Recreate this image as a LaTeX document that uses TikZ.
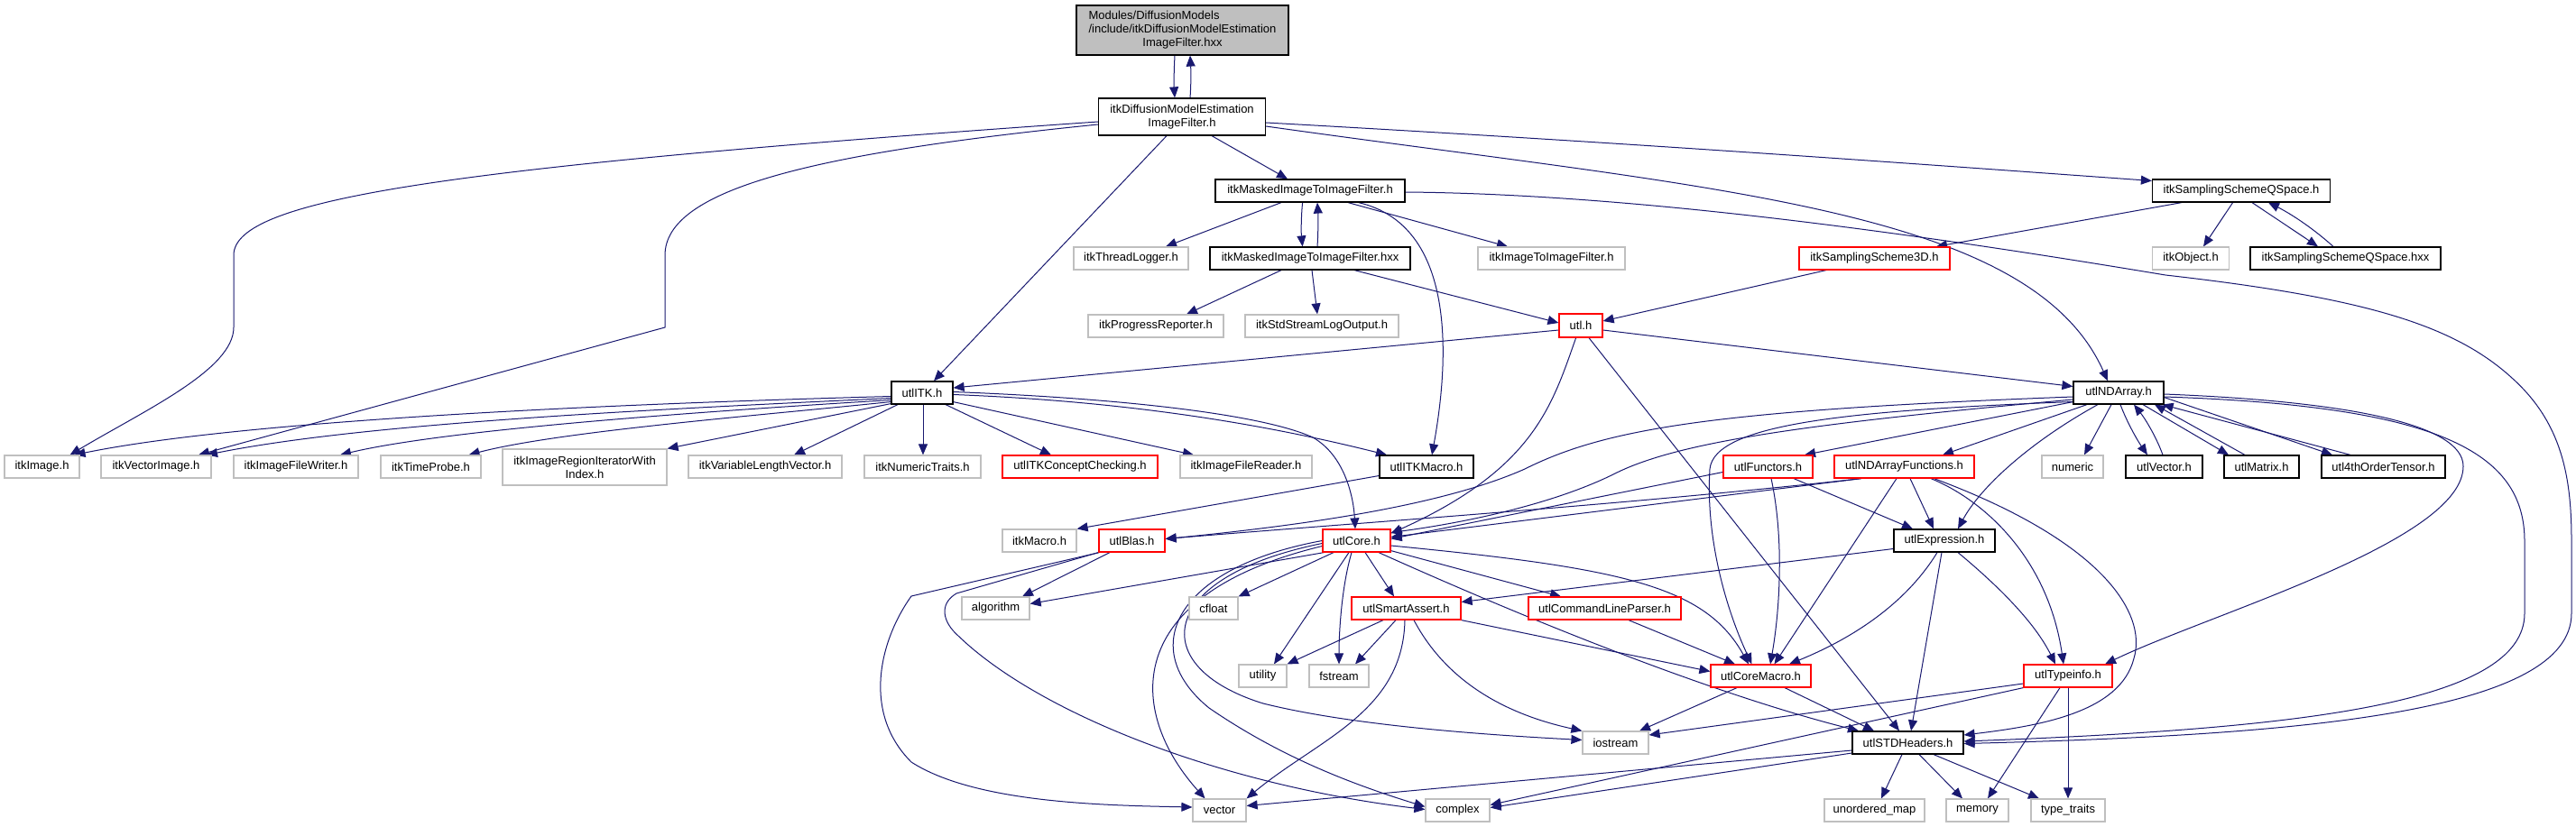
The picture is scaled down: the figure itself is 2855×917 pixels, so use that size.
\documentclass[tikz,border=0pt]{standalone}
\usepackage{fontspec}
\setmainfont{Liberation Sans}
\usetikzlibrary{arrows.meta}
\definecolor{navy}{HTML}{191970}
\definecolor{grayb}{HTML}{BFBFBF}
\definecolor{redb}{HTML}{FF0000}
\pgfdeclarelayer{bg}\pgfdeclarelayer{edges}\pgfsetlayers{bg,edges,main}
\begin{document}
\begin{tikzpicture}[x=1pt,y=-1pt,
  box/.style={rectangle, draw, fill=white, line width=1.2pt, inner sep=0pt, minimum height=25pt, align=center, font=\fontsize{13pt}{15pt}\selectfont},
  bbox/.style={box, draw=black},
  gbox/.style={box, draw=grayb},
  rbox/.style={box, draw=redb},
  dep/.style={draw=navy, line width=1pt, -{Triangle[length=12pt,width=10pt]}}]
\useasboundingbox (0,0) rectangle (2855,917);
\begin{pgfonlayer}{bg}
\fill[white] (0,0) rectangle (2855,917);
\end{pgfonlayer}
% nodes
\node[bbox, fill=grayb, minimum width=235pt, minimum height=55pt] (top) at (1310.5,33.5) {\begin{tabular}{@{}l@{}}Modules/DiffusionModels\\/include/itkDiffusionModelEstimation\\\multicolumn{1}{@{}c@{}}{ImageFilter.hxx}\end{tabular}};
\node[bbox, minimum width=185pt, minimum height=41pt] (dmeif) at (1310,129.5) {itkDiffusionModelEstimation\\ImageFilter.h};
\node[bbox, minimum width=210pt] (maskh) at (1452,211.5) {itkMaskedImageToImageFilter.h};
\node[gbox, minimum width=127pt] (thread) at (1253.5,286.5) {itkThreadLogger.h};
\node[bbox, minimum width=222pt] (maskhxx) at (1452,286.5) {itkMaskedImageToImageFilter.hxx};
\node[gbox, minimum width=150pt] (progress) at (1281,361.5) {itkProgressReporter.h};
\node[gbox, minimum width=170pt] (stdstream) at (1465,361.5) {itkStdStreamLogOutput.h};
\node[bbox, minimum width=68pt] (utlitk) at (1022,435.5) {utlITK.h};
\node[gbox, minimum width=163pt] (imgtoimg) at (1719.5,286.5) {itkImageToImageFilter.h};
\node[rbox, minimum width=167pt] (ss3d) at (2077.5,286.5) {itkSamplingScheme3D.h};
\node[rbox, minimum width=48pt, minimum height=26pt] (utl) at (1752,361) {utl.h};
\node[bbox, minimum width=197pt] (ssq) at (2484,211.5) {itkSamplingSchemeQSpace.h};
\node[gbox, minimum width=85pt] (itkobj) at (2428,286.5) {itkObject.h};
\node[bbox, minimum width=211pt] (ssqhxx) at (2599.5,286.5) {itkSamplingSchemeQSpace.hxx};
\node[bbox, minimum width=100pt] (ndarray) at (2348,435.5) {utlNDArray.h};
% row 517.5
\node[gbox, minimum width=83pt] (itkimage) at (46.5,517.5) {itkImage.h};
\node[gbox, minimum width=122pt] (vecimg) at (173,517.5) {itkVectorImage.h};
\node[gbox, minimum width=138pt] (writer) at (328,517.5) {itkImageFileWriter.h};
\node[gbox, minimum width=111pt] (timeprobe) at (477.5,517.5) {itkTimeProbe.h};
\node[gbox, minimum width=182pt, minimum height=40pt] (regioniter) at (648,518) {itkImageRegionIteratorWith\\Index.h};
\node[gbox, minimum width=170pt] (varlen) at (848,517.5) {itkVariableLengthVector.h};
\node[gbox, minimum width=129pt] (numtraits) at (1022.5,517.5) {itkNumericTraits.h};
\node[rbox, minimum width=172pt] (concept) at (1197,517.5) {utlITKConceptChecking.h};
\node[gbox, minimum width=146pt] (reader) at (1381,517.5) {itkImageFileReader.h};
\node[bbox, minimum width=104pt] (itkmacroutl) at (1581,517.5) {utlITKMacro.h};
\node[rbox, minimum width=99pt] (functors) at (1959.5,517.5) {utlFunctors.h};
\node[rbox, minimum width=155pt] (ndfunc) at (2110.5,517.5) {utlNDArrayFunctions.h};
\node[gbox, minimum width=68pt] (numeric) at (2297,517.5) {numeric};
\node[bbox, minimum width=85pt] (utlvec) at (2398.5,517.5) {utlVector.h};
\node[bbox, minimum width=83pt] (matrix) at (2506.5,517.5) {utlMatrix.h};
\node[bbox, minimum width=137pt] (tensor) at (2641.5,517.5) {utl4thOrderTensor.h};
% row 599.5
\node[gbox, minimum width=82pt] (itkmacro) at (1152,599.5) {itkMacro.h};
\node[rbox, minimum width=73pt] (blas) at (1254.5,599.5) {utlBlas.h};
\node[rbox, minimum width=75pt] (core) at (1503.5,599.5) {utlCore.h};
\node[bbox, minimum width=112pt] (expr) at (2155,599.5) {utlExpression.h};
% row 674.5
\node[gbox, minimum width=75pt] (algorithm) at (1103.5,674.5) {algorithm};
\node[gbox, minimum width=54pt] (cfloat) at (1345,674.5) {cfloat};
\node[rbox, minimum width=121pt] (smart) at (1558.5,674.5) {utlSmartAssert.h};
\node[rbox, minimum width=169pt] (cmdline) at (1778.5,674.5) {utlCommandLineParser.h};
% row 749.5
\node[gbox, minimum width=53pt] (utility) at (1399.5,749.5) {utility};
\node[gbox, minimum width=66pt] (fstream) at (1484,749.5) {fstream};
\node[rbox, minimum width=111pt] (coremacro) at (1951.5,749.5) {utlCoreMacro.h};
\node[rbox, minimum width=98pt] (typeinfo) at (2292,749.5) {utlTypeinfo.h};
% row 823.5
\node[gbox, minimum width=73pt] (iostream) at (1790.5,823.5) {iostream};
\node[bbox, minimum width=123pt] (stdh) at (2114.5,823.5) {utlSTDHeaders.h};
% row 898.5
\node[gbox, minimum width=59pt] (vector) at (1351.5,898.5) {vector};
\node[gbox, minimum width=71pt] (complex) at (1615.5,898.5) {complex};
\node[gbox, minimum width=111pt] (umap) at (2077.5,898.5) {unordered\_map};
\node[gbox, minimum width=69pt] (memory) at (2191.5,898.5) {memory};
\node[gbox, minimum width=82pt] (typetraits) at (2292,898.5) {type\_traits};

\begin{pgfonlayer}{edges}
% top part
\draw[dep] ([xshift=-8.5pt]top.south) .. controls (1301,80) and (1301,95) .. ([xshift=-8pt]dmeif.north);
\draw[dep] ([xshift=9pt]dmeif.north) .. controls (1320,95) and (1320,80) .. ([xshift=8.5pt]top.south);
\draw[dep] ([yshift=-5.5pt]dmeif.west) .. controls (500,185) and (259,220) .. (259,283) -- (259,363) .. controls (259,410) and (160,455) .. ([xshift=31pt]itkimage.north);
\draw[dep] ([yshift=-8.5pt]dmeif.west) .. controls (900,170) and (737,210) .. (737,283) -- (737,363) -- ([xshift=47pt]vecimg.north);
\draw[dep] ([xshift=-17pt]dmeif.south) -- ([xshift=13pt]utlitk.north);
\draw[dep] ([xshift=33pt]dmeif.south) -- ([xshift=-25pt]maskh.north);
\draw[dep] ([yshift=-6.5pt]dmeif.east) .. controls (1800,158) and (2100,180) .. ([yshift=11pt]ssq.west);
\draw[dep] ([yshift=-10.5pt]dmeif.east) .. controls (1900,210) and (2250,230) .. ([xshift=-12pt]ndarray.north);
% masked filter
\draw[dep] ([xshift=-32pt]maskh.south) -- ([xshift=38.5pt]thread.north);
\draw[dep] ([xshift=-8.4pt]maskh.south) .. controls (1442,240) and (1442,258) .. ([xshift=-8.4pt]maskhxx.north);
\draw[dep] ([xshift=8pt]maskhxx.north) .. controls (1461,258) and (1461,240) .. ([xshift=8pt]maskh.south);
\draw[dep] ([xshift=42pt]maskh.south) -- ([xshift=-48.5pt]imgtoimg.north);
\draw[dep] ([xshift=53.6pt]maskh.south) .. controls (1615,250) and (1606,400) .. ([xshift=6pt]itkmacroutl.north);
\draw[dep] ([yshift=-1.5pt]maskh.east) .. controls (1800,215) and (2100,255) .. (2400,305) .. controls (2620,330) and (2720,360) .. (2785,420) .. controls (2840,470) and (2850,530) .. (2850,600) -- (2850,680) .. controls (2850,790) and (2550,815) .. ([yshift=-1pt]stdh.east);
\draw[dep] ([xshift=-32pt]maskhxx.south) -- ([xshift=34pt]progress.north);
\draw[dep] ([xshift=2pt]maskhxx.south) -- ([xshift=-5pt]stdstream.north);
\draw[dep] ([xshift=49pt]maskhxx.south) -- ([yshift=3pt]utl.west);
% sampling schemes
\draw[dep] ([xshift=-53.5pt]ss3d.south) -- ([yshift=5pt]utl.east);
\draw[dep] ([xshift=-66pt]ssq.south) -- ([xshift=68.5pt]ss3d.north);
\draw[dep] ([xshift=-9.4pt]ssq.south) -- ([xshift=14pt]itkobj.north);
\draw[dep] ([xshift=12pt]ssq.south) -- ([xshift=-30.5pt]ssqhxx.north);
\draw[dep] ([xshift=-13.5pt]ssqhxx.north) .. controls (2560,250) and (2535,235) .. ([xshift=30pt]ssq.south);
% utl.h
\draw[dep] ([yshift=-5pt]utl.west) -- ([yshift=5.5pt]utlitk.east);
\draw[dep] ([yshift=-5pt]utl.east) -- ([yshift=7pt]ndarray.west);
\draw[dep] ([xshift=-5.4pt]utl.south) .. controls (1720,450) and (1700,520) .. ([yshift=8pt]core.east);
\draw[dep] ([xshift=9pt]utl.south) -- ([xshift=-9.5pt]stdh.north);
% utlNDArray.h
\draw[dep] ([yshift=-4.5pt]ndarray.west) .. controls (1900,455) and (1780,475) .. (1690,520) .. controls (1600,560) and (1450,582) .. ([yshift=2pt]blas.east);
\draw[dep] ([yshift=-7.5pt]ndarray.west) .. controls (2000,470) and (1860,490) .. (1790,525) .. controls (1720,560) and (1620,580) .. ([yshift=9pt]core.east);
\draw[dep] ([yshift=-10pt]ndarray.west) .. controls (2050,455) and (1900,470) .. (1895,520) .. controls (1890,600) and (1915,680) .. ([xshift=-10pt]coremacro.north);
\draw[dep] ([yshift=3pt]ndarray.south west) -- ([xshift=40.5pt]functors.north);
\draw[dep] ([xshift=-35pt]ndarray.south) -- ([xshift=42.5pt]ndfunc.north);
\draw[dep] ([xshift=-23pt]ndarray.south) .. controls (2250,490) and (2195,540) .. ([xshift=15pt]expr.north);
\draw[dep] ([xshift=-8pt]ndarray.south) -- ([xshift=13pt]numeric.north);
\draw[dep] ([xshift=2pt]ndarray.south) .. controls (2358,470) and (2370,490) .. ([xshift=-18.5pt]utlvec.north);
\draw[dep] ([xshift=-1.5pt]utlvec.north) .. controls (2390,485) and (2378,465) .. ([xshift=17pt]ndarray.south);
\draw[dep] ([xshift=27pt]ndarray.south) -- ([xshift=-36.5pt]matrix.north);
\draw[dep] ([xshift=-18.5pt]matrix.north) -- ([xshift=40pt]ndarray.south);
\draw[dep] ([yshift=8pt]ndarray.south east) -- ([xshift=-56.5pt]tensor.north);
\draw[dep] ([xshift=-36.5pt]tensor.north) -- ([xshift=-2pt]ndarray.south east);
\draw[dep] ([yshift=-1.5pt]ndarray.east) .. controls (2600,445) and (2730,470) .. (2730,517) .. controls (2730,600) and (2450,680) .. ([xshift=41pt]typeinfo.north);
\draw[dep] ([yshift=-4.5pt]ndarray.east) .. controls (2700,450) and (2798,500) .. (2798,600) -- (2798,680) .. controls (2798,780) and (2550,808) .. ([yshift=1.5pt]stdh.east);
% utlNDArrayFunctions.h
\draw[dep] ([xshift=6.5pt]ndfunc.south) -- ([xshift=-12pt]expr.north);
\draw[dep] ([xshift=-8.5pt]ndfunc.south) -- ([xshift=15pt]coremacro.north);
\draw[dep] ([xshift=29.5pt]ndfunc.south) .. controls (2200,555) and (2270,620) .. ([xshift=-5pt]typeinfo.north);
\draw[dep] ([xshift=33pt]ndfunc.south) .. controls (2330,600) and (2380,680) .. (2365,730) .. controls (2350,790) and (2260,805) .. ([yshift=8.5pt]stdh.east);
\draw[dep] ([xshift=-47.5pt]ndfunc.south) -- ([yshift=4pt]core.east);
\draw[dep] ([xshift=-47.5pt]ndfunc.south) .. controls (1800,560) and (1500,580) .. ([yshift=2pt]blas.east);
% utlFunctors.h
\draw[dep] ([yshift=-6pt]functors.west) -- ([yshift=2pt]core.east);
\draw[dep] ([xshift=28.5pt]functors.south) -- ([xshift=-35pt]expr.north);
\draw[dep] ([xshift=3.5pt]functors.south) .. controls (1978,600) and (1972,680) .. ([xshift=10.5pt]coremacro.north);
% utlExpression.h
\draw[dep] ([xshift=-3pt]expr.south) -- ([xshift=3.5pt]stdh.north);
\draw[dep] ([xshift=-8pt]expr.south) .. controls (2115,665) and (2060,705) .. ([xshift=31.5pt]coremacro.north);
\draw[dep] ([xshift=15pt]expr.south) .. controls (2215,650) and (2255,690) .. ([xshift=-14pt]typeinfo.north);
\draw[dep] ([yshift=-9pt]expr.west) -- ([yshift=7pt]smart.east);
% utlCore.h
\draw[dep] ([xshift=2pt]core.south west) -- ([yshift=5pt]algorithm.east);
\draw[dep] ([xshift=-25.5pt]core.south) -- (cfloat.north east);
\draw[dep] ([xshift=-8.5pt]core.south) -- ([xshift=12.5pt]utility.north);
\draw[dep] ([xshift=-5.5pt]core.south) .. controls (1487,650) and (1484,700) .. (fstream.north);
\draw[dep] ([xshift=9.5pt]core.south) -- ([xshift=-13.5pt]smart.north);
\draw[dep] ([yshift=2pt]core.south east) -- ([xshift=-48.5pt]cmdline.north);
\draw[dep] ([yshift=-5.5pt]core.east) .. controls (1800,630) and (1890,650) .. ([xshift=-13.5pt]coremacro.north);
\draw[dep] ([xshift=24.5pt]core.south) .. controls (1700,690) and (1900,770) .. ([xshift=-54.5pt]stdh.north);
\draw[dep] ([yshift=-6pt]core.west) .. controls (1240,660) and (1250,790) .. ([xshift=-16pt]vector.north);
\draw[dep] ([yshift=-3pt]core.west) .. controls (1280,640) and (1270,740) .. (1400,780) .. controls (1500,805) and (1650,815) .. ([yshift=3pt]iostream.west);
\draw[dep] (core.west) .. controls (1300,630) and (1260,720) .. (1340,785) .. controls (1420,840) and (1500,870) .. ([yshift=4pt]complex.west);
% utlBlas.h
\draw[dep] ([xshift=-24.5pt]blas.south) -- ([xshift=29.5pt]algorithm.north);
\draw[dep] ([xshift=1pt]blas.south west) -- (1010,661) .. controls (975,710) and (955,790) .. (1010,845) .. controls (1080,890) and (1220,893) .. ([yshift=3.5pt]vector.west);
\draw[dep] (blas.south west) -- (1060,658) .. controls (1040,670) and (1045,690) .. (1062,705) .. controls (1150,790) and (1350,870) .. ([yshift=1pt]complex.west);
% utlSmartAssert.h
\draw[dep] ([xshift=-25.5pt]smart.south) -- (utility.north east);
\draw[dep] ([xshift=-11.5pt]smart.south) -- ([xshift=18pt]fstream.north);
\draw[dep] ([xshift=-1.5pt]smart.south) .. controls (1555,790) and (1460,820) .. (vector.north east);
\draw[dep] ([xshift=8.5pt]smart.south) .. controls (1600,750) and (1660,790) .. (iostream.north west);
\draw[dep] (smart.south east) -- ([yshift=5pt]coremacro.west);
% others
\draw[dep] ([xshift=26.5pt]cmdline.south) -- ([xshift=-28.5pt]coremacro.north);
\draw[dep] ([xshift=-26.5pt]coremacro.south) -- ([xshift=26.5pt]iostream.north);
\draw[dep] ([xshift=26.5pt]coremacro.south) -- ([xshift=-37.5pt]stdh.north);
\draw[dep] ([yshift=-8.5pt]typeinfo.west) -- ([yshift=8.5pt]iostream.east);
\draw[dep] (typeinfo.south west) -- ([yshift=6pt]complex.east);
\draw[dep] ([xshift=-9pt]typeinfo.south) -- ([xshift=11.5pt]memory.north);
\draw[dep] (typeinfo.south) -- (typetraits.north);
\draw[dep] ([xshift=-6.5pt]stdh.south) -- ([xshift=7.5pt]umap.north);
\draw[dep] ([xshift=12.5pt]stdh.south) -- ([xshift=-16.5pt]memory.north);
\draw[dep] ([xshift=28.5pt]stdh.south) -- ([xshift=-32pt]typetraits.north);
\draw[dep] ([yshift=-8.5pt]stdh.west) -- ([yshift=5pt]vector.east);
\draw[dep] ([yshift=-11.5pt]stdh.west) -- ([yshift=3pt]complex.east);
% utlITK.h
\draw[dep] ([yshift=-4pt]utlitk.west) .. controls (600,450) and (250,470) .. ([xshift=36pt]itkimage.north);
\draw[dep] ([yshift=-6pt]utlitk.west) .. controls (700,455) and (400,470) .. ([xshift=56pt]vecimg.north);
\draw[dep] ([yshift=-8pt]utlitk.west) .. controls (800,455) and (500,475) .. ([xshift=49pt]writer.north);
\draw[dep] ([yshift=-10pt]utlitk.west) .. controls (850,460) and (620,478) .. ([xshift=42pt]timeprobe.north);
\draw[dep] ([yshift=1pt]utlitk.south west) -- (regioniter.north east);
\draw[dep] ([xshift=-27pt]utlitk.south) -- ([xshift=32pt]varlen.north);
\draw[dep] ([xshift=1pt]utlitk.south) -- ([xshift=0.5pt]numtraits.north);
\draw[dep] ([xshift=26pt]utlitk.south) -- ([xshift=-32pt]concept.north);
\draw[dep] ([yshift=3pt]utlitk.south east) -- ([xshift=-58pt]reader.north);
\draw[dep] ([yshift=-2pt]utlitk.east) .. controls (1250,445) and (1400,470) .. ([xshift=-44pt]itkmacroutl.north);
\draw[dep] ([yshift=1pt]utlitk.east) .. controls (1250,442) and (1400,460) .. (1455,485) .. controls (1490,505) and (1500,550) .. ([xshift=-1.5pt]core.north);
\draw[dep] ([yshift=-10pt]itkmacroutl.west) -- (itkmacro.north east);
\end{pgfonlayer}
\end{tikzpicture}
\end{document}
